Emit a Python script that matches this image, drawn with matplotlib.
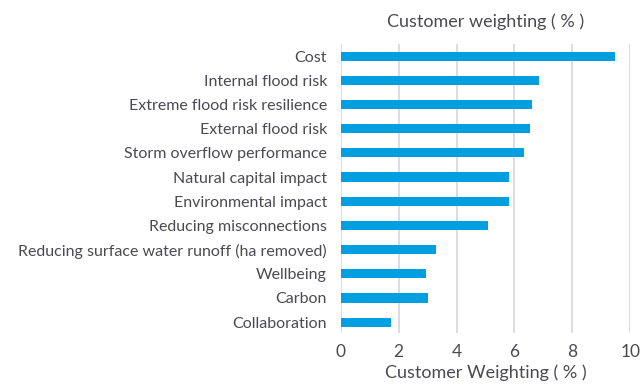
import matplotlib
matplotlib.use("Agg")
import matplotlib.pyplot as plt

categories = [
    "Cost",
    "Internal flood risk",
    "Extreme flood risk resilience",
    "External flood risk",
    "Storm overflow performance",
    "Natural capital impact",
    "Environmental impact",
    "Reducing misconnections",
    "Reducing surface water runoff (ha removed)",
    "Wellbeing",
    "Carbon",
    "Collaboration",
]
weights = [9.47, 6.84, 6.61, 6.54, 6.33, 5.80, 5.80, 5.08, 3.28, 2.96, 3.00, 1.72]
x_ticks = [0, 2, 4, 6, 8, 10]

plt.rcParams["font.family"] = ["Lato", "DejaVu Sans"]
text_color = "#4a4a52"
bar_color = "#009fdf"

fig = plt.figure(figsize=(6.43, 3.90), dpi=100)
ax = fig.add_axes([0.530, 0.146, 0.450, 0.741])

pos = list(range(len(categories)))
ax.barh(pos, weights, height=0.38, color=bar_color, zorder=3)

ax.set_xlim(0, 10)
ax.set_ylim(len(categories) - 0.55, -0.5)
ax.set_xticks(x_ticks)
ax.set_xticklabels([str(t) for t in x_ticks], fontsize=12.5, color=text_color)
ax.set_yticks(pos)
ax.set_yticklabels(categories, fontsize=11.5, color=text_color)
ax.tick_params(axis="both", length=0)
ax.tick_params(axis="y", pad=10)
ax.tick_params(axis="x", pad=8)

ax.grid(axis="x", color="#d9d9e0", linewidth=1.3, zorder=0)
for s in ax.spines.values():
    s.set_visible(False)

ax.set_xlabel("Customer Weighting ( % )", fontsize=13, color=text_color, labelpad=3)
fig.text(0.755, 0.945, "Customer weighting ( % )", ha="center", va="center",
         fontsize=13, color=text_color)

fig.savefig("out.png", dpi=100)
